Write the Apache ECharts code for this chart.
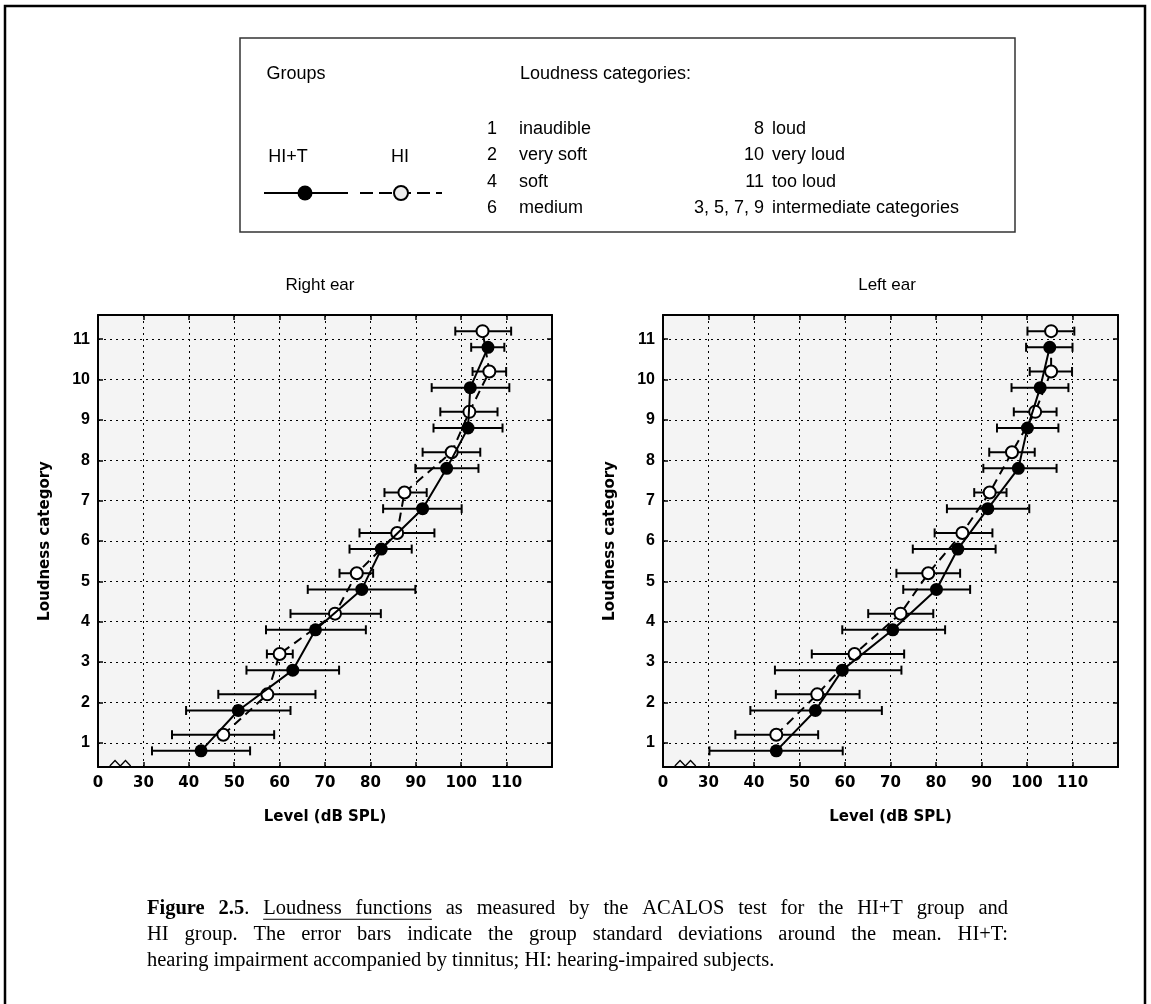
<!DOCTYPE html>
<html><head><meta charset="utf-8">
<script src="https://cdn.jsdelivr.net/npm/echarts@6/dist/echarts.min.js"></script>
<style>html,body{margin:0;padding:0;background:#fff}#c{width:1151px;height:1004px}</style>
</head><body><div id="c"></div>
<script>
// ---------- data ----------
const categories = [1,2,3,4,5,6,7,8,9,10,11];
const xTickLabels = {20:'0',30:'30',40:'40',50:'50',60:'60',70:'70',80:'80',90:'90',100:'100',110:'110',120:''};
const panelTitles = ['Right ear','Left ear'];
const groupNames = ['HI+T','HI'];
// Right ear
const rightHIT_mean = [42.7, 50.9, 62.9, 67.9, 78.1, 82.4, 91.5, 96.8, 101.5, 102.0, 105.9];
const rightHIT_low  = [31.9, 39.4, 52.7, 57.0, 66.2, 75.4, 82.8, 89.9, 93.9, 93.5, 102.2];
const rightHIT_high = [53.5, 62.4, 73.1, 79.0, 89.9, 89.1, 100.1, 103.8, 109.1, 110.6, 109.5];
const rightHI_mean  = [47.6, 57.3, 60.0, 72.2, 77.0, 85.9, 87.5, 97.9, 101.8, 106.2, 104.7];
const rightHI_low   = [36.3, 46.5, 57.2, 62.4, 73.2, 77.6, 83.1, 91.5, 95.4, 102.5, 98.7];
const rightHI_high  = [58.8, 67.9, 62.9, 82.3, 80.6, 94.1, 92.4, 104.2, 108.0, 109.9, 111.0];
// Left ear
const leftHIT_mean = [44.9, 53.5, 59.4, 70.5, 80.1, 84.8, 91.4, 98.1, 100.1, 102.9, 105.0];
const leftHIT_low  = [30.2, 39.2, 44.6, 59.4, 72.8, 74.9, 82.4, 90.4, 93.4, 96.6, 99.8];
const leftHIT_high = [59.5, 68.1, 72.4, 82.0, 87.5, 93.1, 100.5, 106.5, 106.9, 109.1, 110.0];
const leftHI_mean  = [44.9, 53.9, 62.1, 72.2, 78.3, 85.8, 91.8, 96.7, 101.8, 105.3, 105.3];
const leftHI_low   = [35.9, 44.8, 52.7, 65.1, 71.3, 79.7, 88.4, 91.7, 97.1, 100.6, 100.1];
const leftHI_high  = [54.1, 63.2, 73.0, 79.4, 85.3, 92.4, 95.5, 101.7, 106.5, 109.9, 110.4];

const legendLeftCol = [['1','inaudible'],['2','very soft'],['4','soft'],['6','medium']];
const legendRightCol = [['8','loud'],['10','very loud'],['11','too loud'],['3, 5, 7, 9','intermediate categories']];

// ---------- chart ----------
const chart = echarts.init(document.getElementById('c'), null, {renderer:'canvas'});
const grids = [
  {left:98, top:315, width:454, height:452},
  {left:663, top:315, width:455, height:452}
];
const panels = [
  {hit:[rightHIT_mean,rightHIT_low,rightHIT_high], hi:[rightHI_mean,rightHI_low,rightHI_high]},
  {hit:[leftHIT_mean,leftHIT_low,leftHIT_high], hi:[leftHI_mean,leftHI_low,leftHI_high]}
];
const OFF = 0.2;
const sansB = {fontFamily:'DejaVu Sans', fontWeight:'bold', color:'#000'};

const xAxes = [], yAxes = [], series = [];
grids.forEach((g, gi) => {
  xAxes.push({
    gridIndex:gi, type:'value', min:20, max:120, interval:10, position:'bottom',
    axisLine:{show:true, onZero:false, lineStyle:{color:'#000', width:2}},
    axisTick:{show:true, inside:true, length:5, lineStyle:{color:'#000', width:1.5}},
    axisLabel:{formatter:v => xTickLabels[v] !== undefined ? xTickLabels[v] : String(v), fontSize:15, margin:9, ...sansB},
    splitLine:{show:true, lineStyle:{color:'#000', width:1, type:[2,4]}},
    name:'Level (dB SPL)', nameLocation:'middle', nameGap:43,
    nameTextStyle:{fontSize:15, ...sansB}
  });
  xAxes.push({
    gridIndex:gi, type:'value', min:20, max:120, interval:10, position:'top',
    axisLine:{show:true, onZero:false, lineStyle:{color:'#000', width:2}},
    axisTick:{show:true, inside:true, length:5, lineStyle:{color:'#000', width:1.5}},
    axisLabel:{show:false}, splitLine:{show:false}
  });
  yAxes.push({
    gridIndex:gi, type:'value', min:0.4, max:11.6, position:'left',
    axisLine:{show:true, onZero:false, lineStyle:{color:'#000', width:2}},
    axisTick:{show:true, inside:true, length:5, customValues:categories, lineStyle:{color:'#000', width:1.5}},
    axisLabel:{customValues:categories, fontSize:16, margin:8, fontFamily:'Liberation Sans', fontWeight:'bold', color:'#000'},
    splitLine:{show:true, lineStyle:{color:'#000', width:1, type:[2,4]}},
    name:'Loudness category', nameLocation:'middle', nameGap:45, nameRotate:90,
    nameTextStyle:{fontSize:15, ...sansB}
  });
  yAxes.push({
    gridIndex:gi, type:'value', min:0.4, max:11.6, position:'right',
    axisLine:{show:true, onZero:false, lineStyle:{color:'#000', width:2}},
    axisTick:{show:true, inside:true, length:5, customValues:categories, lineStyle:{color:'#000', width:1.5}},
    axisLabel:{show:false}, splitLine:{show:false}
  });
  const p = panels[gi];
  const xi = gi*2, yi = gi*2;
  [[p.hit, -OFF], [p.hi, OFF]].forEach(([arr, off]) => {
    const [mean, low, high] = arr;
    series.push({
      type:'custom', xAxisIndex:xi, yAxisIndex:yi, z:2, silent:true,
      data: categories.map((c,i) => [low[i], high[i], c + off]),
      encode:{x:[0,1], y:2},
      renderItem(params, api) {
        const p1 = api.coord([api.value(0), api.value(2)]);
        const p2 = api.coord([api.value(1), api.value(2)]);
        const h = 4.5, st = {stroke:'#000', lineWidth:2};
        return {type:'group', children:[
          {type:'line', shape:{x1:p1[0], y1:p1[1], x2:p2[0], y2:p2[1]}, style:st},
          {type:'line', shape:{x1:p1[0], y1:p1[1]-h, x2:p1[0], y2:p1[1]+h}, style:st},
          {type:'line', shape:{x1:p2[0], y1:p2[1]-h, x2:p2[0], y2:p2[1]+h}, style:st}
        ]};
      }
    });
  });
  series.push({
    type:'line', name:groupNames[0], xAxisIndex:xi, yAxisIndex:yi, z:4,
    data: categories.map((c,i) => [p.hit[0][i], c - OFF]),
    symbol:'circle', symbolSize:13, itemStyle:{color:'#000'},
    lineStyle:{color:'#000', width:2}
  });
  series.push({
    type:'line', name:groupNames[1], xAxisIndex:xi, yAxisIndex:yi, z:3,
    data: categories.map((c,i) => [p.hi[0][i], c + OFF]),
    symbol:'circle', symbolSize:12, itemStyle:{color:'#fff', borderColor:'#000', borderWidth:2},
    lineStyle:{color:'#000', width:2, type:[9,6]}
  });
});

chart.setOption({
  animation:false,
  backgroundColor:'#fff',
  grid: grids.map(g => ({...g, show:true, backgroundColor:'#f4f4f4', borderWidth:0, containLabel:false})),
  xAxis:xAxes, yAxis:yAxes, series
});

// ---------- graphic: border, legend, titles, caption, axis breaks ----------
const mctx = document.createElement('canvas').getContext('2d');
function tw(text, f){ mctx.font = f; return mctx.measureText(text).width; }
const serif = 'Liberation Serif';
const cap3 = 'hearing impairment accompanied by tinnitus; HI: hearing-impaired subjects.';
const capFS = Math.round(18 * 628 / tw(cap3, '18px "' + serif + '"') * 10) / 10;
function cf(b){ return (b ? 'bold ' : '') + capFS + 'px "' + serif + '"'; }
function layoutLine(tokens, y, justify){
  const L = 147, R = 1008;
  const widths = tokens.map(tok => tok.reduce((s,r) => s + tw(r.t, cf(r.b)), 0));
  const total = widths.reduce((a,b) => a+b, 0);
  const space = justify ? (R - L - total) / (tokens.length - 1) : tw(' ', cf(false));
  let x = L; const els = []; let uS = null, uE = null;
  tokens.forEach((tok, i) => {
    let rx = x;
    tok.forEach(r => {
      els.push({type:'text', style:{text:r.t, x:rx, y:y, fontSize:capFS, fontFamily:serif, fontWeight:r.b?'bold':'normal', fill:'#000', verticalAlign:'middle', align:'left'}});
      const w = tw(r.t, cf(r.b));
      if (r.u) { if (uS === null) uS = rx; uE = rx + w; }
      rx += w;
    });
    x += widths[i] + space;
  });
  if (uS !== null) els.push({type:'line', shape:{x1:uS, y1:y + capFS*0.5, x2:uE, y2:y + capFS*0.5}, style:{stroke:'#000', lineWidth:1}});
  return els;
}
const T = s => s.split(' ').map(w => [{t:w}]);
const line1 = [[{t:'Figure', b:true}], [{t:'2.5', b:true}, {t:'.'}], [{t:'Loudness', u:true}], [{t:'functions', u:true}]]
  .concat(T('as measured by the ACALOS test for the HI+T group and'));
const line2 = T('HI group. The error bars indicate the group standard deviations around the mean. HI+T:');
const line3 = T(cap3);

const lf = 'Liberation Sans';
function lt(text, x, y, align, size){
  return {type:'text', style:{text, x, y, fontSize:size||18, fontFamily:lf, fill:'#000', align:align||'left', verticalAlign:'middle'}};
}
const graphic = [];
graphic.push({type:'rect', shape:{x:5, y:6, width:1140, height:1010}, style:{fill:'none', stroke:'#000', lineWidth:2.5}});
graphic.push({type:'rect', shape:{x:240, y:38, width:775, height:194}, style:{fill:'none', stroke:'#333', lineWidth:1.5}});
graphic.push(lt('Groups', 296, 74, 'center'));
graphic.push(lt('Loudness categories:', 520, 74, 'left'));
graphic.push(lt(groupNames[0], 288, 157, 'center'));
graphic.push(lt(groupNames[1], 400, 157, 'center'));
graphic.push({type:'line', shape:{x1:264, y1:193, x2:348, y2:193}, style:{stroke:'#000', lineWidth:2}});
graphic.push({type:'circle', shape:{cx:305, cy:193, r:7.5}, style:{fill:'#000'}});
graphic.push({type:'line', shape:{x1:360, y1:193, x2:442, y2:193}, style:{stroke:'#000', lineWidth:2, lineDash:[13,6]}});
graphic.push({type:'circle', shape:{cx:401, cy:193, r:7}, style:{fill:'#eee', stroke:'#000', lineWidth:2}});
const rowsY = [129, 155, 182, 208];
legendLeftCol.forEach((r,i) => { graphic.push(lt(r[0], 487, rowsY[i], 'left')); graphic.push(lt(r[1], 519, rowsY[i], 'left')); });
legendRightCol.forEach((r,i) => { graphic.push(lt(r[0], 764, rowsY[i], 'right')); graphic.push(lt(r[1], 772, rowsY[i], 'left')); });
graphic.push(lt(panelTitles[0], 320, 285, 'center', 17));
graphic.push(lt(panelTitles[1], 887, 285, 'center', 17));
layoutLine(line1, 909, true).forEach(e => graphic.push(e));
layoutLine(line2, 935, true).forEach(e => graphic.push(e));
layoutLine(line3, 961, false).forEach(e => graphic.push(e));
// axis-break zigzags on the bottom axis
[0,1].forEach(gi => {
  const a = chart.convertToPixel({xAxisIndex:gi*2, yAxisIndex:gi*2}, [22.6, 0.4]);
  const b = chart.convertToPixel({xAxisIndex:gi*2, yAxisIndex:gi*2}, [27.2, 0.4]);
  const w = (b[0] - a[0]) / 4, y = a[1] - 1, h = 5.5;
  graphic.push({type:'polyline', z:10, shape:{points:[[a[0],y],[a[0]+w,y-h],[a[0]+2*w,y],[a[0]+3*w,y-h],[b[0],y]]}, style:{stroke:'#000', lineWidth:1.3, fill:'none'}});
});
chart.setOption({graphic});
</script>
</body></html>
